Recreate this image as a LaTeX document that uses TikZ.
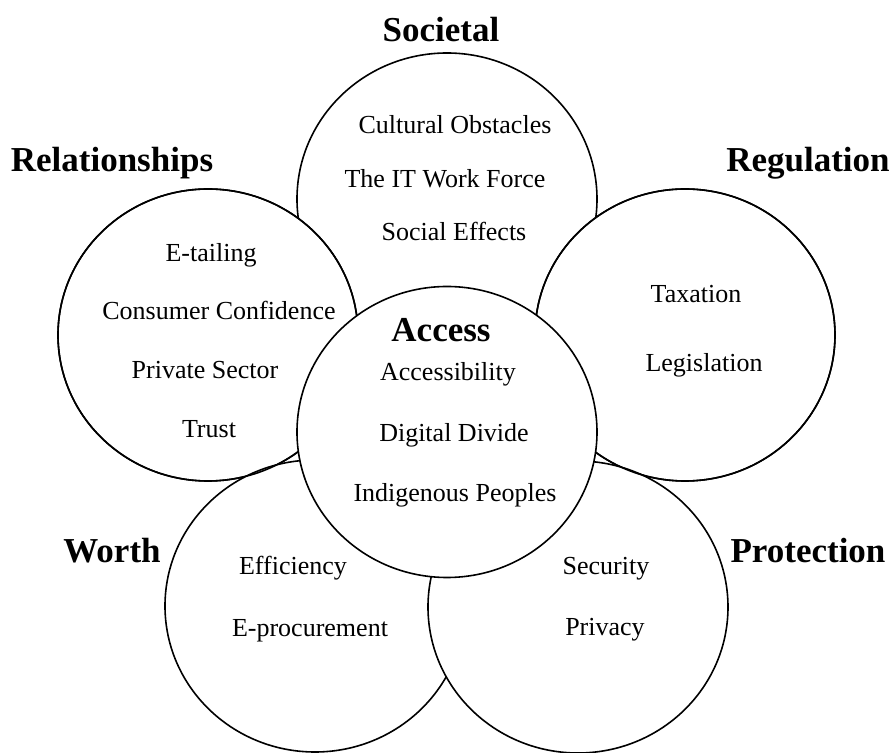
\documentclass[tikz,border=0pt]{standalone}
\usepackage{fontspec}
\setmainfont{Liberation Serif}
\usepackage{tikz}
\usetikzlibrary{shapes.geometric}

\begin{document}
\begin{tikzpicture}[
        x=0.5pt, y=-0.5pt,
        bubble/.style={draw, ellipse, line width=0.8pt, fill=white, minimum width=150pt, minimum height=146pt, inner sep=0pt},
        ring/.style={draw, ellipse, line width=0.8pt, minimum width=150pt, minimum height=146pt, inner sep=0pt},
        topic/.style={font=\fontsize{13}{15}\selectfont, anchor=base, inner sep=0pt},
        heading/.style={font=\fontsize{17.5}{20}\selectfont\bfseries, anchor=base, inner sep=0pt}
    ]
        \useasboundingbox (0,0) rectangle (891,753);

        % Outer circles
        \node[bubble] (soc) at (447,199) {};
        \node[bubble] (rel) at (208,335) {};
        \node[bubble] (reg) at (685,335) {};
        \node[bubble] (wor) at (315,606) {};
        \node[bubble] (pro) at (578,607) {};
        \node[ring] (relline) at (rel.center) {};
        \node[ring] (regline) at (reg.center) {};

        % Centre circle
        \node[bubble, minimum height=145.5pt] (acc) at (447,432) {};

        % Headings
        \node[heading] (socH) at (441,42) {Societal};
        \node[heading] (relH) at (112,172) {Relationships};
        \node[heading] (regH) at (808,172) {Regulation};
        \node[heading] (worH) at (112,563) {Worth};
        \node[heading] (proH) at (808,563) {Protection};
        \node[heading] (accH) at (441,342) {Access};

        % Societal
        \node[topic] (soc1) at (455,134) {Cultural Obstacles};
        \node[topic] (soc2) at (445,188) {The IT Work Force};
        \node[topic] (soc3) at (454,241) {Social Effects};

        % Relationships
        \node[topic] (rel1) at (211,262) {E-tailing};
        \node[topic] (rel2) at (219,320) {Consumer Confidence};
        \node[topic] (rel3) at (205,379) {Private Sector};
        \node[topic] (rel4) at (209,438) {Trust};

        % Regulation
        \node[topic] (reg1) at (696,303) {Taxation};
        \node[topic] (reg2) at (704,372) {Legislation};

        % Access
        \node[topic] (acc1) at (448,381) {Accessibility};
        \node[topic] (acc2) at (454,442) {Digital Divide};
        \node[topic] (acc3) at (455,502) {Indigenous Peoples};

        % Worth
        \node[topic] (wor1) at (293,575) {Efficiency};
        \node[topic] (wor2) at (310,637) {E-procurement};

        % Protection
        \node[topic] (pro1) at (606,575) {Security};
        \node[topic] (pro2) at (605,636) {Privacy};
    \end{tikzpicture}
\end{document}
